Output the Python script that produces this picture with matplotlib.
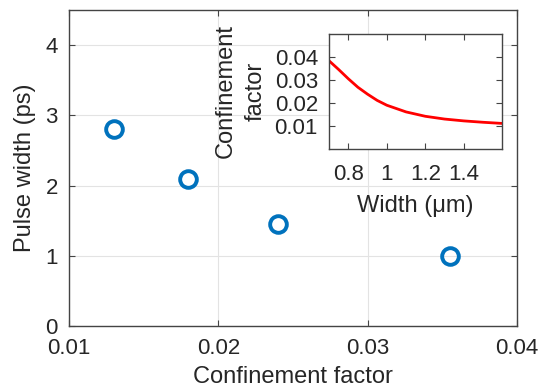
import matplotlib
matplotlib.use('Agg')
import matplotlib.pyplot as plt

plt.rcParams['font.family'] = ['Liberation Sans', 'DejaVu Sans']
plt.rcParams['font.size'] = 16

# Pulse width vs confinement factor
conf_factor = [0.013, 0.018, 0.024, 0.0355]
pulse_width = [2.8, 2.1, 1.45, 1.0]

# Inset: confinement factor vs waveguide width
width_um = [0.70, 0.75, 0.80, 0.85, 0.90, 0.95, 1.00, 1.10, 1.20, 1.30, 1.40, 1.50, 1.60]
inset_conf = [0.0383, 0.0345, 0.0305, 0.0268, 0.0238, 0.0211, 0.0190,
              0.0161, 0.0142, 0.0130, 0.0122, 0.0116, 0.0111]

text_color = '#262626'
axis_color = '#444444'
blue = '#0072BD'


def style_axes(ax):
    for s in ax.spines.values():
        s.set_color(axis_color)
        s.set_linewidth(1.0)
    ax.tick_params(direction='in', top=True, right=True, colors=axis_color,
                   labelcolor=text_color, length=4, width=0.8, labelsize=16)


fig = plt.figure(figsize=(5.43, 3.89), dpi=100)
ax = fig.add_axes([0.127, 0.162, 0.825, 0.812])
ax.plot(conf_factor, pulse_width, linestyle='none', marker='o', markersize=12,
        markerfacecolor='none', markeredgecolor=blue, markeredgewidth=2.8)
ax.set_xlim(0.01, 0.04)
ax.set_ylim(0, 4.5)
ax.set_xticks([0.01, 0.02, 0.03, 0.04])
ax.set_xticklabels(['0.01', '0.02', '0.03', '0.04'])
ax.set_yticks([0, 1, 2, 3, 4])
ax.grid(True, color='#e3e3e3', linewidth=0.8)
ax.set_axisbelow(True)
style_axes(ax)
ax.tick_params(axis='x', pad=9)
ax.tick_params(axis='y', pad=8)
ax.set_xlabel('Confinement factor', color=text_color, fontsize=17, labelpad=5)
ax.set_ylabel('Pulse width (ps)', color=text_color, fontsize=17, labelpad=7)

ins = fig.add_axes([0.606, 0.617, 0.319, 0.296])
ins.plot(width_um, inset_conf, color='#ff0000', linewidth=2.0)
ins.set_xlim(0.7, 1.6)
ins.set_ylim(0, 0.05)
ins.set_xticks([0.8, 1.0, 1.2, 1.4])
ins.set_xticklabels(['0.8', '1', '1.2', '1.4'])
ins.set_yticks([0.01, 0.02, 0.03, 0.04])
ins.set_yticklabels(['0.01', '0.02', '0.03', '0.04'])
style_axes(ins)
ins.tick_params(axis='x', pad=11)
ins.tick_params(axis='y', pad=8)
ins.set_xlabel('Width (μm)', color=text_color, fontsize=17, labelpad=7)
ins.set_ylabel('Confinement\nfactor', color=text_color, fontsize=17,
               labelpad=6, linespacing=1.45)

fig.savefig('out.png', dpi=100)
